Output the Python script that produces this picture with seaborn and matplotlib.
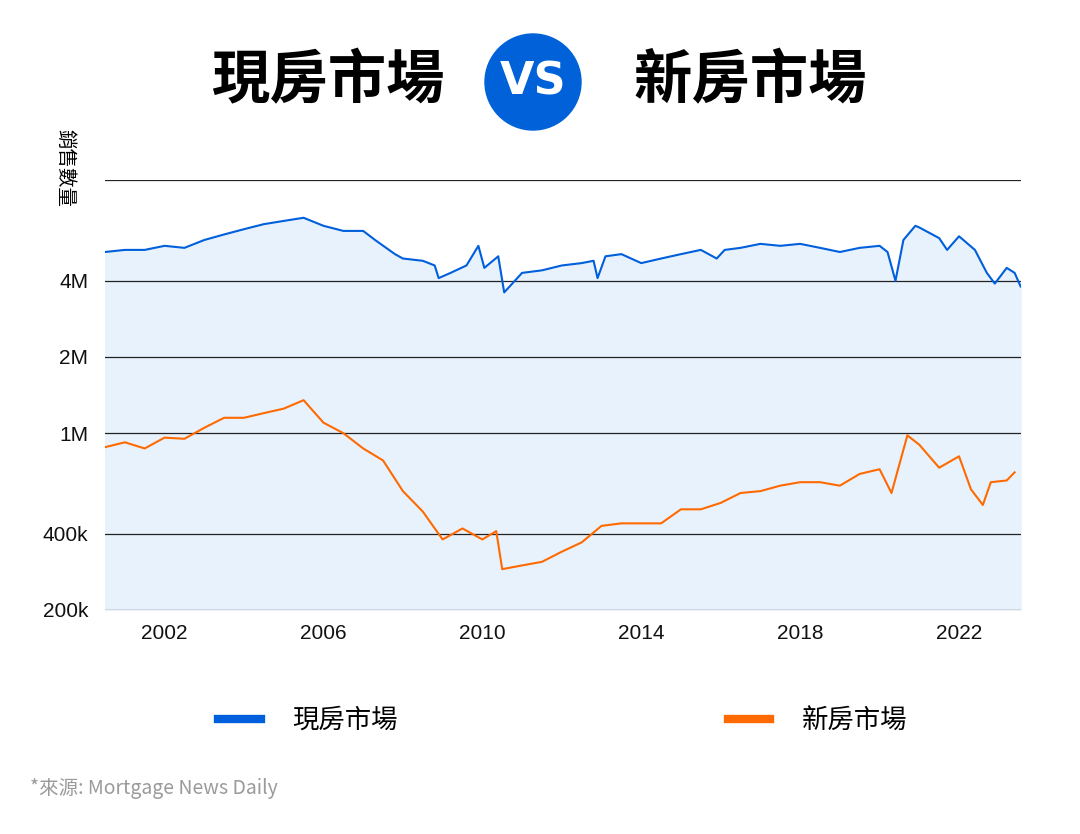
import numpy as np
import pandas as pd
import matplotlib.pyplot as plt
import seaborn as sns
from matplotlib.patches import Circle

plt.rcParams['font.family'] = ['Noto Sans CJK TC', 'DejaVu Sans']

# existing home sales (millions)
existing_year = [2000.5, 2001.0, 2001.5, 2002.0, 2002.5, 2003.0, 2003.5, 2004.0, 2004.5, 2005.0,
                 2005.5, 2006.0, 2006.5, 2007.0, 2007.3, 2007.8, 2008.0, 2008.5, 2008.8, 2008.9,
                 2009.2, 2009.6, 2009.9, 2010.05, 2010.4, 2010.55, 2011.0, 2011.5, 2012.0, 2012.5,
                 2012.8, 2012.9, 2013.1, 2013.5, 2014.0, 2014.5, 2015.0, 2015.5, 2015.9, 2016.1,
                 2016.5, 2017.0, 2017.5, 2018.0, 2018.5, 2019.0, 2019.5, 2020.0, 2020.2, 2020.4,
                 2020.6, 2020.9, 2021.0, 2021.5, 2021.7, 2022.0, 2022.4, 2022.7, 2022.9, 2023.2,
                 2023.4, 2023.55]
existing_sales = [5.2, 5.3, 5.3, 5.5, 5.4, 5.8, 6.1, 6.4, 6.7, 6.9,
                  7.1, 6.6, 6.3, 6.3, 5.8, 5.1, 4.9, 4.8, 4.6, 4.1,
                  4.3, 4.6, 5.5, 4.5, 5.0, 3.6, 4.3, 4.4, 4.6, 4.7,
                  4.8, 4.1, 5.0, 5.1, 4.7, 4.9, 5.1, 5.3, 4.9, 5.3,
                  5.4, 5.6, 5.5, 5.6, 5.4, 5.2, 5.4, 5.5, 5.2, 4.0,
                  5.8, 6.6, 6.5, 5.9, 5.3, 6.0, 5.3, 4.3, 3.9, 4.5,
                  4.3, 3.8]

# new home sales (thousands)
new_year = [2000.5, 2001.0, 2001.5, 2002.0, 2002.5, 2003.0, 2003.5, 2004.0, 2004.5, 2005.0,
            2005.5, 2006.0, 2006.5, 2007.0, 2007.5, 2008.0, 2008.5, 2009.0, 2009.5, 2010.0,
            2010.35, 2010.5, 2011.0, 2011.5, 2012.0, 2012.5, 2013.0, 2013.5, 2014.0, 2014.5,
            2015.0, 2015.5, 2016.0, 2016.5, 2017.0, 2017.5, 2018.0, 2018.5, 2019.0, 2019.5,
            2020.0, 2020.3, 2020.7, 2021.0, 2021.5, 2022.0, 2022.3, 2022.6, 2022.8, 2023.2,
            2023.4]
new_sales = [880, 920, 870, 960, 950, 1050, 1150, 1150, 1200, 1250,
             1350, 1100, 1000, 870, 780, 590, 490, 380, 420, 380,
             410, 290, 300, 310, 340, 370, 430, 440, 440, 440,
             500, 500, 530, 580, 590, 620, 640, 640, 620, 690,
             720, 580, 980, 900, 730, 810, 600, 520, 640, 650,
             700]

df_e = pd.DataFrame({'year': existing_year, 'sales': np.array(existing_sales) * 1e6})
df_n = pd.DataFrame({'year': new_year, 'sales': np.array(new_sales) * 1e3})

blue = '#005fdc'
orange = '#ff6a00'

fig = plt.figure(figsize=(10.8, 8.34), dpi=100)
ax = fig.add_axes([0.0972, 0.2686, 0.8478, 0.5154])
ax.set_yscale('log')
ax.fill_between(df_e['year'], df_e['sales'], 1e5, color='#e8f2fd', zorder=0)
sns.lineplot(data=df_e, x='year', y='sales', color=blue, lw=1.5, ax=ax, label='現房市場')
sns.lineplot(data=df_n, x='year', y='sales', color=orange, lw=1.5, ax=ax, label='新房市場')

ax.set_xlim(2000.5, 2023.55)
ax.set_ylim(2e5, 1e7)
yt = [2e5, 4e5, 1e6, 2e6, 4e6, 1e7]
ax.set_yticks(yt)
ax.set_yticklabels(['200k', '400k', '1M', '2M', '4M', ''])
ax.minorticks_off()
ax.set_xticks([2002, 2006, 2010, 2014, 2018, 2022])
for v in yt:
    ax.axhline(v, color='#222222', lw=0.9, zorder=1)
ax.tick_params(length=0, labelsize=15, colors='#111111')
ax.tick_params(axis='y', pad=12)
ax.tick_params(axis='x', pad=10)
for lab in ax.get_xticklabels() + ax.get_yticklabels():
    lab.set_family('Liberation Sans')
for s in ax.spines.values():
    s.set_visible(False)
ax.set_xlabel('')
ax.set_ylabel('')

leg = ax.legend(loc='upper center', bbox_to_anchor=(0.5, -0.17), ncol=2, frameon=False,
                fontsize=19, columnspacing=12.5, handlelength=1.6, handletextpad=1.2)
for h in leg.get_lines():
    h.set_linewidth(6)

fig.text(0.06, 0.845, '銷售數量', rotation=270, ha='center', va='top', fontsize=14)

fig.text(328 / 1080, 0.902, '現房市場', ha='center', va='center', fontsize=42, fontweight='bold')
fig.text(750 / 1080, 0.902, '新房市場', ha='center', va='center', fontsize=42, fontweight='bold')
circ = Circle((5.33, 8.34 - 0.82), 0.48, transform=fig.dpi_scale_trans,
              color='#0061d9', zorder=5)
fig.patches.append(circ)
fig.text(533 / 1080, 1 - 82 / 834, 'VS', ha='center', va='center', fontsize=32,
         fontweight='bold', color='white', zorder=6, family='DejaVu Sans')

fig.text(0.028, 0.055, '*來源: Mortgage News Daily', fontsize=14, color='#9a9a9a', va='center')

fig.savefig('out.png', dpi=100)
